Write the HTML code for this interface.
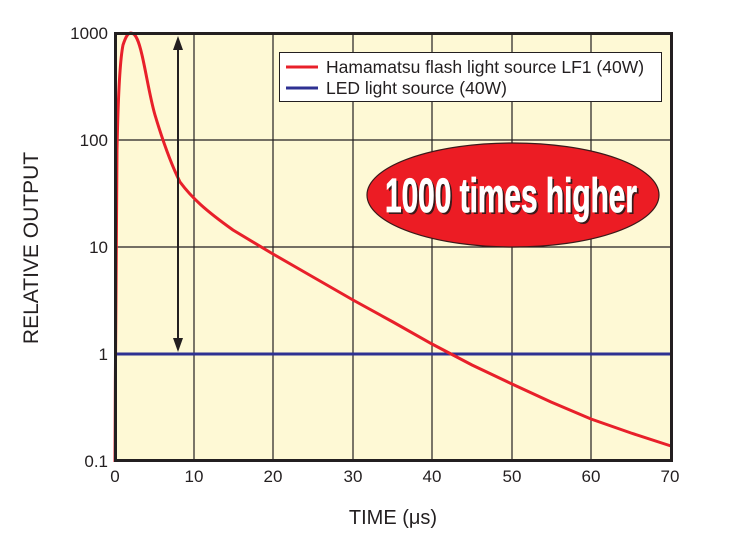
<!DOCTYPE html>
<html><head><meta charset="utf-8"><style>
body{margin:0;background:#fff;}
svg{display:block;font-family:"Liberation Sans",sans-serif;}
</style></head><body>
<svg width="730" height="544" viewBox="0 0 730 544">
<rect x="114" y="33" width="558" height="429" fill="#fef9d5"/>
<g stroke="#231f20" stroke-width="1.2">
<line x1="194" y1="33" x2="194" y2="462"/><line x1="273" y1="33" x2="273" y2="462"/>
<line x1="353" y1="33" x2="353" y2="462"/><line x1="432" y1="33" x2="432" y2="462"/>
<line x1="512" y1="33" x2="512" y2="462"/><line x1="591" y1="33" x2="591" y2="462"/>
<line x1="114" y1="140" x2="672" y2="140"/><line x1="114" y1="247" x2="672" y2="247"/>
<line x1="114" y1="354" x2="672" y2="354"/>
</g>
<ellipse cx="513" cy="195" rx="146" ry="52" fill="#ec1c24" stroke="#3a1a1a" stroke-width="1.2"/>
<text x="387" y="214" font-weight="bold" font-size="48" fill="#3a1a1a" textLength="252" lengthAdjust="spacingAndGlyphs">1000 times higher</text>
<text x="385" y="212" font-weight="bold" font-size="48" fill="#fff" stroke="#fff" stroke-width="0.8" textLength="252" lengthAdjust="spacingAndGlyphs">1000 times higher</text>
<line x1="114" y1="354" x2="672" y2="354" stroke="#2e3192" stroke-width="3"/>
<path d="M115,462 C115.5,350 116,220 117,150 C118,100 120,60 123,45 C126,36 128,33 131,33 C136,33 139,42 142,55 C146,72 150,98 155,115 C161,135 169,160 180,182 C192,198 205,210 233,230 L273,254 L313,277 L353,300 L393,322 L432,344 L472,365 L512,384 L551,402 L591,419 L631,433 L671,446" fill="none" stroke="#e8202a" stroke-width="3"/>
<line x1="178" y1="46" x2="178" y2="340" stroke="#231f20" stroke-width="2"/>
<polygon points="178,36 173,50 183,50" fill="#231f20"/>
<polygon points="178,352 173,338 183,338" fill="#231f20"/>
<rect x="115.5" y="33.5" width="556" height="427" fill="none" stroke="#231f20" stroke-width="3"/>
<rect x="279.5" y="52.5" width="382" height="49" fill="#fff" stroke="#231f20" stroke-width="1"/>
<line x1="286" y1="67" x2="318" y2="67" stroke="#e8202a" stroke-width="3"/>
<line x1="286" y1="88" x2="318" y2="88" stroke="#2e3192" stroke-width="3"/>
<g font-size="17.5" fill="#231f20">
<text x="326" y="73">Hamamatsu flash light source LF1 (40W)</text>
<text x="326" y="94">LED light source (40W)</text>
</g>
<g font-size="17" fill="#231f20" text-anchor="end">
<text x="108" y="39">1000</text><text x="108" y="146">100</text>
<text x="108" y="253">10</text><text x="108" y="360">1</text><text x="108" y="467">0.1</text>
</g>
<g font-size="17" fill="#231f20" text-anchor="middle">
<text x="115" y="482">0</text><text x="194" y="482">10</text><text x="273" y="482">20</text>
<text x="353" y="482">30</text><text x="432" y="482">40</text><text x="512" y="482">50</text>
<text x="591" y="482">60</text><text x="670" y="482">70</text>
<text x="393" y="524" font-size="20">TIME (μs)</text>
<text x="0" y="0" font-size="21" transform="translate(38,248) rotate(-90)">RELATIVE OUTPUT</text>
</g>
</svg>
</body></html>
